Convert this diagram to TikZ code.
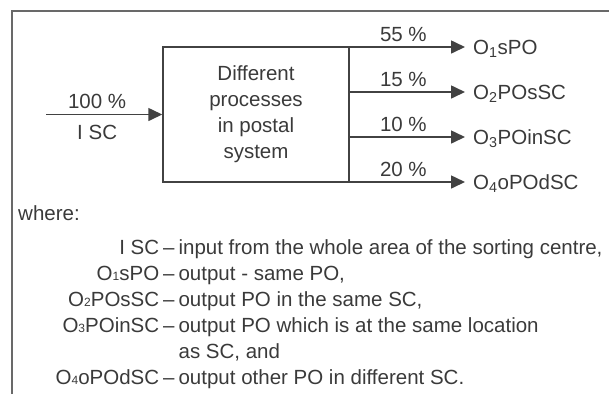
\documentclass[tikz,border=0pt]{standalone}
\usepackage{fontspec}
\setmainfont{Liberation Sans}
\usepackage{array}
\usepackage{xcolor}
\usepackage{tikz}
\usetikzlibrary{arrows.meta,positioning}
\definecolor{DarkText}{RGB}{58,58,58}
\definecolor{FlowLine}{RGB}{66,66,66}
\definecolor{FrameGray}{RGB}{105,105,105}
\newcommand{\smalldigit}[1]{{\fontsize{12bp}{12bp}\selectfont #1}}

\begin{document}
\begin{tikzpicture}[x=1bp,y=-1bp,>={Triangle[length=14bp,width=13bp]},
  every node/.style={text=DarkText,font=\fontsize{20.5bp}{26bp}\selectfont},
  flow/.style={->,line width=1.6bp,draw=FlowLine},
  outlbl/.style={anchor=west,inner sep=0pt,text height=14.7bp,text depth=0pt},
  pctlbl/.style={inner sep=0pt}]
  \useasboundingbox (0,0) rectangle (609,394);
  \draw[FrameGray,line width=2bp] (12,394) -- (12,11) -- (609,11);
  \node[draw=FlowLine,line width=1.5bp,minimum width=186bp,minimum height=135bp,
        align=center,inner sep=0pt] (proc) at (256,114.5)
        {Different\\processes\\in postal\\system};
  \coordinate (in) at (46,114.5);
  \draw[flow] (in) -- (proc.west)
    node[pctlbl,pos=0.44,above=5bp] (pin) {100 \%}
    node[pctlbl,pos=0.44,below=10bp] (isc) {I SC};
  % outputs
  \node[outlbl] (o1) at (473,47) {O\textsubscript{1}sPO};
  \node[outlbl] (o2) at (473,92) {O\textsubscript{2}POsSC};
  \node[outlbl] (o3) at (473,137) {O\textsubscript{3}POinSC};
  \node[outlbl] (o4) at (473,182) {O\textsubscript{4}oPOdSC};
  \foreach \n/\p in {1/55,2/15,3/10,4/20}
    \draw[flow,shorten >=8bp] (proc.east |- o\n.west) -- (o\n.west)
      node[pctlbl,pos=0.435,above=5bp] (p\n) {\p~\%};
  % legend
  \node[anchor=north west,inner sep=0pt] (legend) at (18,201.8) {%
    \begin{tabular}{@{}>{\raggedleft\arraybackslash}p{141bp}@{\hspace{4bp}}c@{\hspace{4bp}}l@{}}
    \multicolumn{3}{@{}l}{where:}\\[8bp]
    I SC & -- & input from the whole area of the sorting centre,\\
    O\smalldigit{1}sPO & -- & output - same PO,\\
    O\smalldigit{2}POsSC & -- & output PO in the same SC,\\
    O\smalldigit{3}POinSC & -- & output PO which is at the same location\\
     & & as SC, and\\
    O\smalldigit{4}oPOdSC & -- & output other PO in different SC.
    \end{tabular}};
\end{tikzpicture}
\end{document}
